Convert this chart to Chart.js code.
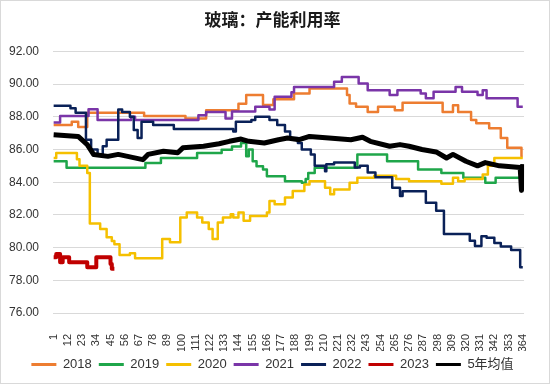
<!DOCTYPE html>
<html>
<head>
<meta charset="utf-8">
<script src="https://cdn.jsdelivr.net/npm/chart.js@4.4.0/dist/chart.umd.min.js"></script>
<style>
  html, body { margin: 0; padding: 0; background: #fff; }
  #wrap { width: 550px; height: 384px; box-sizing: border-box; border: 1px solid #d9d9d9; }
</style>
</head>
<body>
<div id="wrap"><canvas id="chart" width="548" height="382"></canvas></div>
<script>
// x axis: day of year, labels every 11 days
const xTicks = [1, 12, 23, 34, 45, 56, 67, 78, 89, 100, 111, 122, 133, 144, 155, 166, 177,
  188, 199, 210, 221, 232, 243, 254, 265, 276, 287, 298, 309, 320, 331, 342, 353, 364];

const seriesNames = ["2018", "2019", "2020", "2021", "2022", "2023", "5年均值"];

// [day, value] points, value holds until the next point
const s2018 = [[1, 87.5], [15, 87.7], [20, 87.37], [27, 88.25], [71, 88.05], [103, 87.9], [119, 88.4],
  [144, 88.8], [150, 89.33], [163, 88.72], [171, 89.07], [187, 89.43], [199, 89.73], [228, 89.33],
  [230, 88.82], [235, 88.62], [244, 88.3], [252, 88.62], [265, 88.4], [271, 88.86], [302, 88.3],
  [310, 88.7], [314, 88.3], [324, 87.8], [328, 87.6], [338, 87.3], [347, 86.7], [352, 86.1],
  [363, 85.58], [364, 85.58]];

const s2019 = [[1, 85.28], [11, 84.88], [72, 85.18], [84, 85.48], [112, 85.79], [131, 85.99],
  [139, 86.19], [146, 86.4], [150, 85.58], [152, 86.0], [155, 85.28], [158, 84.98], [163, 84.77],
  [166, 84.37], [180, 84.06], [193, 83.97], [196, 84.2], [198, 84.57], [203, 84.88], [236, 85.69],
  [259, 85.28], [283, 84.77], [301, 84.57], [318, 84.27], [335, 83.97], [343, 84.27], [362, 84.27]];

const s2020 = [[1, 85.48], [3, 85.79], [19, 85.4], [21, 85.0], [27, 84.57], [29, 81.48], [37, 81.13],
  [42, 80.63], [46, 80.4], [48, 80.2], [52, 79.55], [60, 79.65], [64, 79.35], [85, 80.52], [91, 80.32],
  [99, 81.84], [104, 82.15], [112, 81.84], [116, 81.54], [121, 81.13], [124, 80.52], [128, 81.54],
  [132, 81.84], [138, 82.04], [140, 81.84], [144, 82.15], [148, 81.64], [153, 81.94], [166, 82.15],
  [168, 82.85], [172, 82.65], [180, 83.06], [186, 83.46], [195, 83.86], [199, 84.06], [211, 83.66],
  [215, 83.26], [218, 83.56], [230, 83.97], [236, 84.27], [249, 84.4], [266, 84.2], [276, 84.06],
  [301, 83.9], [310, 84.27], [314, 84.06], [319, 84.2], [333, 84.47], [337, 85.0], [342, 85.48],
  [364, 85.48]];

const s2021 = [[1, 87.65], [6, 88.05], [28, 88.46], [35, 87.8], [61, 88.0], [64, 87.8], [113, 88.1],
  [119, 88.3], [134, 87.9], [139, 88.32], [157, 88.62], [168, 88.45], [172, 89.22], [185, 89.5],
  [187, 89.83], [218, 90.14], [224, 90.44], [237, 90.04], [244, 89.63], [261, 89.33], [267, 89.63],
  [285, 89.43], [289, 89.13], [295, 89.53], [312, 89.83], [317, 89.53], [329, 89.33], [333, 89.63],
  [336, 89.13], [360, 88.62], [364, 88.62]];

const s2022 = [[1, 88.68], [14, 88.52], [18, 88.25], [26, 86.6], [30, 86.0], [35, 85.7], [39, 86.2],
  [42, 86.6], [51, 88.45], [54, 88.3], [60, 88.0], [63, 87.2], [66, 86.7], [69, 87.7], [78, 87.5],
  [94, 87.25], [140, 87.1], [142, 87.7], [154, 87.8], [157, 88.0], [168, 87.8], [174, 87.5],
  [180, 87.1], [184, 86.7], [190, 86.4], [193, 86.0], [200, 85.7], [203, 85.0], [211, 84.67],
  [212, 85.1], [218, 85.2], [234, 84.9], [238, 85.0], [244, 84.6], [250, 84.3], [263, 83.66],
  [269, 83.15], [271, 83.45], [289, 82.75], [297, 82.25], [303, 80.83], [323, 80.42], [327, 80.1],
  [332, 80.7], [336, 80.6], [342, 80.28], [347, 80.06], [355, 79.86], [362, 78.8], [364, 78.8]];

const s2023 = [[1, 79.41], [3, 79.61], [6, 79.1], [8, 79.41], [13, 79.1], [27, 78.8], [34, 79.41],
  [45, 79.0], [46, 78.7], [48, 78.7]];

const sAvg = [[1, 86.9], [20, 86.8], [27, 86.3], [32, 85.69], [43, 85.58], [51, 85.7], [70, 85.38],
  [74, 85.7], [86, 85.89], [97, 85.8], [101, 86.1], [117, 86.2], [129, 86.35], [137, 86.5],
  [146, 86.64], [152, 86.5], [164, 86.4], [175, 86.6], [182, 86.7], [191, 86.6], [199, 86.8],
  [214, 86.7], [231, 86.6], [240, 86.75], [246, 86.5], [261, 86.2], [269, 86.3], [276, 86.2],
  [286, 86.0], [297, 85.85], [305, 85.48], [310, 85.7], [320, 85.28], [329, 85.0], [335, 85.2],
  [346, 85.0], [362, 84.9], [363, 83.5], [364, 85.1]];

const allSeries = [s2018, s2019, s2020, s2021, s2022, s2023, sAvg];
const colors = ["#ED7D31", "#1FA64A", "#F5C000", "#7A35A8", "#0A2158", "#C00000", "#000000"];
const widths = [2.5, 2.5, 2.5, 2.5, 2.5, 4, 5];

const datasets = allSeries.map((pts, i) => ({
  label: seriesNames[i],
  data: pts.map((p) => ({ x: p[0], y: p[1] })),
  borderColor: colors[i],
  backgroundColor: colors[i],
  borderWidth: widths[i],
  borderJoinStyle: "round",
  pointRadius: 0,
  fill: false,
  stepped: i < 6,
  order: 6 - i,
}));

const font = "'Liberation Sans', Arial, sans-serif";

new Chart(document.getElementById("chart"), {
  type: "line",
  data: { datasets: datasets },
  options: {
    responsive: false,
    animation: false,
    layout: { padding: { left: 6, right: 11, top: 2, bottom: 2 } },
    plugins: {
      title: {
        display: true,
        text: "玻璃：产能利用率",
        color: "#1a1a1a",
        font: { size: 17, weight: "bold", family: "'Noto Sans CJK SC', sans-serif" },
        padding: { top: 6, bottom: 22 },
      },
      legend: {
        position: "bottom",
        labels: {
          boxWidth: 25,
          boxHeight: 3,
          padding: 7,
          color: "#333",
          font: { size: 13, family: "'Liberation Sans', 'Noto Sans CJK SC', sans-serif" },
          generateLabels: (chart) => {
            const items = Chart.defaults.plugins.legend.labels.generateLabels(chart);
            items.sort((a, b) => a.datasetIndex - b.datasetIndex);
            items.forEach((it) => {
              it.fillStyle = colors[it.datasetIndex];
              it.strokeStyle = colors[it.datasetIndex];
              it.lineWidth = 0;
            });
            return items;
          },
        },
      },
      tooltip: { enabled: false },
    },
    scales: {
      x: {
        type: "linear",
        min: 0.5,
        max: 365,
        grid: { display: false },
        border: { display: false },
        afterBuildTicks: (axis) => {
          axis.ticks = xTicks.map((v) => ({ value: v }));
        },
        afterFit: (axis) => {
          axis.height = 38;
        },
        ticks: {
          autoSkip: false,
          minRotation: 90,
          maxRotation: 90,
          padding: 13,
          color: "#333",
          font: { size: 11, family: font },
        },
      },
      y: {
        min: 76,
        max: 92,
        grid: { color: "#d9d9d9", drawTicks: false },
        border: { display: false },
        afterFit: (axis) => {
          axis.width = 46;
        },
        ticks: {
          stepSize: 2,
          padding: 14,
          color: "#333",
          font: { size: 12, family: font },
          callback: (v) => v.toFixed(2),
        },
      },
    },
  },
});
</script>
</body>
</html>
